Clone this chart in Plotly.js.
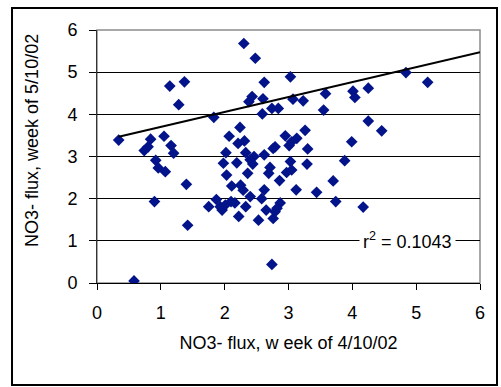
<!DOCTYPE html>
<html>
<head>
<meta charset="utf-8">
<script src="https://cdn.plot.ly/plotly-3.0.1.min.js"></script>
<style>html,body{margin:0;padding:0;background:#fff;}#chart{width:501px;height:387px;}</style>
</head>
<body>
<div id="chart"></div>
<script>
// NO3- flux, week of 4/10/02 (x) vs week of 5/10/02 (y)
var fluxApril = [
  0.34, 0.84, 1.05, 0.80, 0.74, 1.16, 1.20, 1.14, 1.37, 1.28,
  1.83, 2.30, 2.48, 2.62, 3.03, 2.43, 2.38, 2.60, 2.74, 2.84,
  2.59, 2.24, 2.07, 2.31, 2.21, 2.02, 2.33, 2.46, 2.62, 2.79,
  2.76, 2.95, 3.01, 3.07, 3.23, 3.58, 4.01, 4.04, 4.25, 4.84,
  5.18, 3.55, 4.25, 4.46, 3.26, 3.13, 3.05, 3.30, 3.99,
  0.92, 0.96, 1.07, 1.40, 0.90, 1.42, 0.58, 2.74, 1.98, 2.19,
  2.40, 2.44, 2.71, 2.69, 3.03, 3.05, 2.97, 3.29, 3.88, 2.03,
  2.36, 2.86, 3.70, 3.12, 3.44, 3.74, 4.17, 2.11, 2.25, 2.29,
  2.40, 2.62, 2.58, 2.87, 2.22, 2.53, 2.76, 2.79, 2.82, 2.65,
  1.87, 1.75, 1.93, 1.96, 2.01, 2.10, 2.16, 2.33
];
var fluxMay = [
  3.39, 3.41, 3.48, 3.23, 3.14, 3.26, 3.08, 4.67, 4.77, 4.23,
  3.93, 5.68, 5.33, 4.76, 4.89, 4.42, 4.30, 4.37, 4.14, 4.14,
  4.01, 3.69, 3.48, 3.37, 3.31, 3.09, 3.09, 3.00, 3.04, 3.23,
  3.19, 3.49, 3.26, 4.36, 4.32, 4.49, 4.55, 4.40, 4.62, 4.99,
  4.76, 4.10, 3.84, 3.61, 3.62, 3.43, 3.35, 3.18, 3.35,
  2.91, 2.73, 2.64, 2.34, 1.93, 1.37, 0.05, 0.44, 2.84, 2.85,
  2.92, 2.82, 2.74, 2.60, 2.88, 2.68, 2.62, 2.82, 2.90, 2.56,
  2.60, 2.43, 2.42, 2.21, 2.15, 1.93, 1.80, 2.30, 2.32, 2.20,
  2.05, 2.21, 2.00, 1.90, 1.58, 1.49, 1.53, 1.69, 1.77, 1.73,
  1.98, 1.81, 1.81, 1.73, 1.85, 1.93, 1.90, 1.81
];
// linear trend line as drawn, extended to x = 6
var trendSlope = 0.354;
var trendIntercept = 3.35;
var trendRange = [0.34, 6];
var rSquaredText = "r<sup>2</sup> = 0.1043";
var xTicks = [0, 1, 2, 3, 4, 5, 6];
var yTicks = [0, 1, 2, 3, 4, 5, 6];
var xTitle = "NO3- flux, w eek of 4/10/02";
var yTitle = "NO3- flux, week of 5/10/02";

var trendY = trendRange.map(function (x) { return trendIntercept + trendSlope * x; });

var font = {family: "'Liberation Sans', Arial, sans-serif", size: 18, color: "#000"};

var traces = [
  {
    x: fluxApril, y: fluxMay, type: "scatter", mode: "markers",
    marker: {symbol: "diamond", size: 9, color: "#03148A"},
    hoverinfo: "skip", showlegend: false
  },
  {
    x: trendRange, y: trendY, type: "scatter", mode: "lines",
    line: {color: "#000", width: 2},
    hoverinfo: "skip", showlegend: false
  }
];

var layout = {
  width: 501, height: 387,
  margin: {l: 97, r: 21, t: 30, b: 104, pad: 0},
  paper_bgcolor: "#fff", plot_bgcolor: "#fff",
  font: font,
  showlegend: false,
  xaxis: {
    range: [0, 6], tickvals: xTicks, ticktext: xTicks.map(String),
    showgrid: false, zeroline: false,
    showline: true, linecolor: "#000", linewidth: 1,
    ticks: "outside", ticklen: 6, tickcolor: "#000", tickwidth: 1,
    ticklabelstandoff: 7,
    tickfont: font,
    title: {text: xTitle, font: font, standoff: 14}
  },
  yaxis: {
    range: [0, 6], tickvals: yTicks, ticktext: yTicks.map(String),
    showgrid: true, gridcolor: "#000", gridwidth: 1,
    zeroline: false,
    showline: true, linecolor: "#333", linewidth: 1,
    ticks: "outside", ticklen: 7, tickcolor: "#000", tickwidth: 1,
    ticklabelstandoff: 8,
    tickfont: font
  },
  shapes: [
    {type: "rect", xref: "paper", yref: "paper", x0: 0, x1: 1, y0: 0, y1: 1,
     line: {color: "#8c8c8c", width: 1.5}, layer: "below"},
    {type: "rect", xref: "paper", yref: "paper", x0: -0.2219, x1: 1.0444, y0: -0.403, y1: 1.087,
     line: {color: "#000", width: 2}}
  ],
  annotations: [
    {xref: "x", yref: "y", x: 4.86, y: 1, text: rSquaredText, showarrow: false,
     font: font, bgcolor: "#fff", borderpad: 3, xanchor: "center", yanchor: "middle"},
    {xref: "paper", yref: "paper", x: -0.17, y: 0.565, text: yTitle, textangle: -90,
     showarrow: false, font: font, xanchor: "center", yanchor: "middle"}
  ]
};

Plotly.newPlot("chart", traces, layout, {staticPlot: true, displayModeBar: false});
</script>
</body>
</html>
